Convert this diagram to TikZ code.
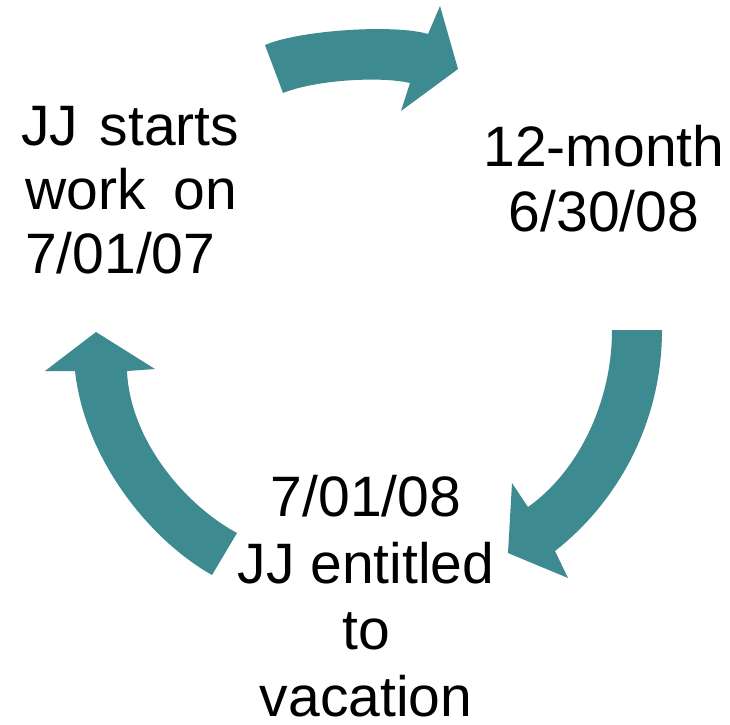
\documentclass[tikz,border=0pt]{standalone}
\usepackage{fontspec}
\setmainfont{Liberation Sans}
\definecolor{cycleteal}{RGB}{61,139,145}

\begin{document}
\begin{tikzpicture}[x=1pt,y=-1pt,
	cyclearrow/.style={fill=cycleteal,draw=none},
	phase/.style={inner sep=0pt,font=\fontsize{57}{64}\selectfont}]
	\useasboundingbox (0,0) rectangle (730,724);
	% the three stages
	\node[phase,anchor=base west,align=left] (start) at (25,273)
		{\hspace*{-4pt}\makebox[218pt][s]{JJ starts}\\\makebox[212pt][s]{work on}\\7/01/07};
	\node[phase,anchor=base,align=center,font=\fontsize{57}{65}\selectfont] (year) at (604,231) {12-month\\6/30/08};
	\node[phase,anchor=base,align=center,font=\fontsize{57}{66.5}\selectfont] (vacation) at (366,716)
		{7/01/08\\JJ entitled\\to\\vacation};
	% start -> 12-month
	\fill[cyclearrow] (265,45) .. controls (300,30) and (395,24) .. (428,34)
		-- (440,6) -- (458,69) -- (401,111) -- (410,83)
		.. controls (380,76) and (315,80) .. (283,93) -- cycle;
	% 12-month -> entitled
	\fill[cyclearrow] (662,330) .. controls (662,420) and (620,500) .. (555,551)
		-- (568,578) -- (508,553) -- (512,483) -- (528,507)
		.. controls (580,470) and (612,400) .. (612,330) -- cycle;
	% entitled -> start
	\fill[cyclearrow] (237,533) .. controls (185,505) and (130,440) .. (127,371)
		-- (155,369) -- (96,332) -- (45,371) -- (75,371)
		.. controls (85,460) and (150,540) .. (212,575) -- cycle;
\end{tikzpicture}
\end{document}
